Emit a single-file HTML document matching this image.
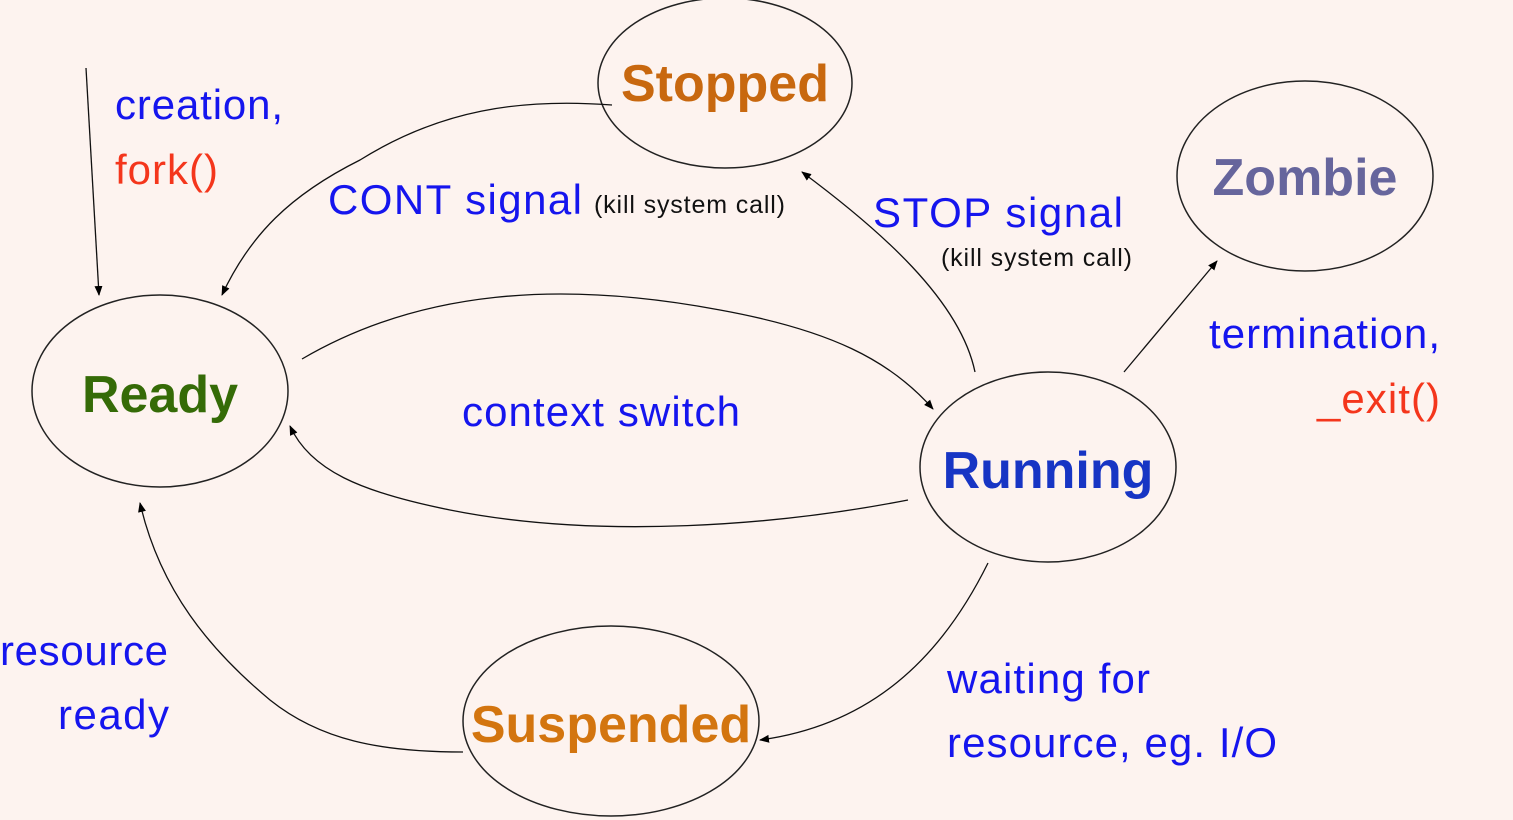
<!DOCTYPE html>
<html><head><style>
html,body{margin:0;padding:0;background:#fdf3ef;}
svg{display:block;font-family:"Liberation Sans",Arial,sans-serif;}
</style></head><body>
<svg width="1513" height="820" viewBox="0 0 1513 820">
<defs><marker id="a" markerWidth="10" markerHeight="10" refX="9" refY="5" orient="auto" markerUnits="userSpaceOnUse"><path d="M0,1 L10,5 L0,9 z" fill="#000"/></marker></defs>
<rect width="1513" height="820" fill="#fdf3ef"/>
<g fill="none" stroke="#222" stroke-width="1.5">
<ellipse cx="725" cy="83" rx="127" ry="85"/>
<ellipse cx="1305" cy="176" rx="128" ry="95"/>
<ellipse cx="160" cy="391" rx="128" ry="96"/>
<ellipse cx="1048" cy="467" rx="128" ry="95"/>
<ellipse cx="611" cy="721" rx="148" ry="95"/>
</g>
<g fill="none" stroke="#111" stroke-width="1.3" marker-end="url(#a)">
<path d="M86,68 L99,295"/>
<path d="M612,105 C520,98 440,110 360,160 C290,195 250,235 222,295"/>
<path d="M975,372 C960,300 880,230 802,172"/>
<path d="M1124,372 L1217,261"/>
<path d="M302,359 C420,290 560,280 720,310 C830,330 890,360 933,409"/>
<path d="M908,500 C780,525 600,540 450,510 C360,492 310,470 290,426"/>
<path d="M988,563 C940,660 870,725 760,740"/>
<path d="M463,752 C380,752 320,740 270,700 C210,650 160,590 140,503"/>
</g>
<g font-weight="bold" font-size="52" text-anchor="middle">
<text x="725" y="101" fill="#c8680f">Stopped</text>
<text x="1305" y="195" fill="#66659c">Zombie</text>
<text x="160" y="412" fill="#356b07">Ready</text>
<text x="1048" y="488" fill="#1735c4">Running</text>
<text x="611" y="742" fill="#d3750f">Suspended</text>
</g>
<g font-size="42" fill="#1515ee">
<text x="115" y="119" textLength="168">creation,</text>
<text x="115" y="184" fill="#f4361c" textLength="103">fork()</text>
<text x="328" y="214" textLength="254">CONT signal</text>
<text x="873" y="227" textLength="250">STOP signal</text>
<text x="1209" y="348" textLength="231">termination,</text>
<text x="1317" y="413" fill="#f4361c" textLength="123">_exit()</text>
<text x="462" y="426" textLength="278">context switch</text>
<text x="0" y="665" textLength="168">resource</text>
<text x="58" y="729" textLength="111">ready</text>
<text x="947" y="693" textLength="203">waiting for</text>
<text x="947" y="757" textLength="330">resource, eg. I/O</text>
</g>
<g font-size="25" fill="#111">
<text x="594" y="213" textLength="191">(kill system call)</text>
<text x="941" y="266" textLength="191">(kill system call)</text>
</g>
</svg>
</body></html>
